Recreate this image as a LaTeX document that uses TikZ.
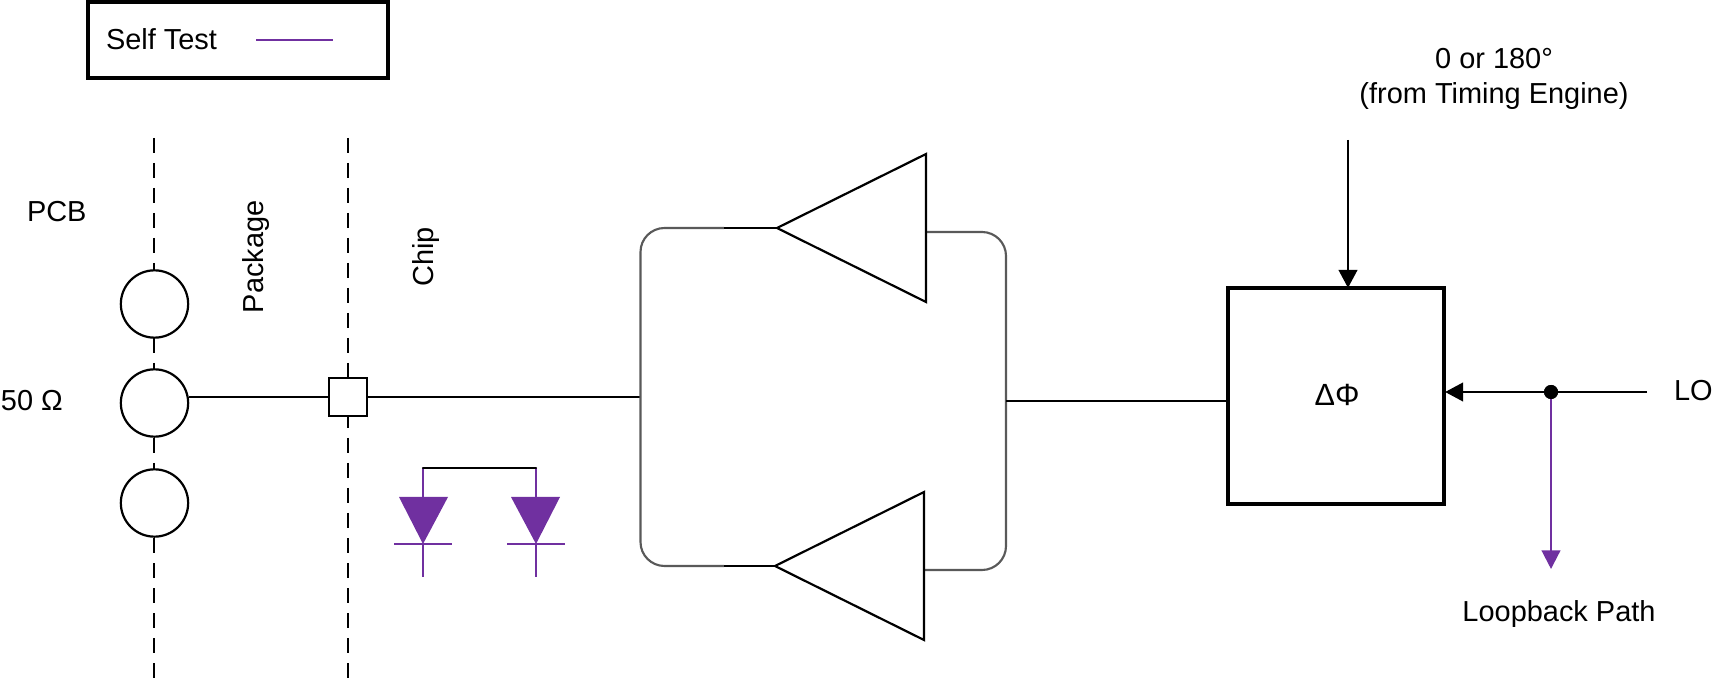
\documentclass[tikz,border=0pt]{standalone}
\usepackage{fontspec}
\setmainfont{Liberation Sans}
\usetikzlibrary{arrows.meta}
\definecolor{stpurple}{HTML}{7030A0}
\definecolor{wiregrey}{HTML}{595959}
\tikzset{
  wire/.style={black,line width=1.65pt},
  greywire/.style={wiregrey,line width=1.6pt,rounded corners=18pt},
  stwire/.style={stpurple,line width=1.65pt},
  border/.style={black,line width=1.65pt,dashed,dash pattern=on 11.25pt off 7.5pt},
  heavybox/.style={draw=black,fill=white,line width=3.2pt,rectangle,inner sep=0pt},
  pad/.style={draw=black,fill=white,line width=1.65pt,circle,minimum size=50.5pt,inner sep=0pt},
  bond/.style={draw=black,fill=white,line width=1.65pt,rectangle,minimum size=28.5pt,inner sep=0pt},
  amp/.style={draw=black,fill=white,line width=1.65pt,line join=miter},
  diode/.style={fill=stpurple,draw=none},
  label/.style={font=\fontsize{21.7pt}{26pt}\selectfont,inner sep=0pt,outer sep=0pt,text=black},
  blackarrow/.style={wire,-{Triangle[length=13.5pt,width=14pt]}},
  purplearrow/.style={stwire,-{Triangle[length=14pt,width=14pt]}},
  dotnode/.style={circle,fill=black,minimum size=10.5pt,inner sep=0pt}
}
\begin{document}
\begin{tikzpicture}[x=0.75pt,y=-0.75pt]
\useasboundingbox (0,0) rectangle (1713,680);
% free ends and junctions
\coordinate (pcbtop) at (154,138);
\coordinate (pcbbot) at (154,678);
\coordinate (pkgtop) at (348,138);
\coordinate (pkgbot) at (348,678);
\coordinate (apexU) at (777,228);
\coordinate (topU) at (926,154);
\coordinate (botU) at (926,302);
\coordinate (apexL) at (775,566);
\coordinate (topL) at (924,492);
\coordinate (botL) at (924,640);
\coordinate (stubU) at (724,228);
\coordinate (stubL) at (724,566);
\coordinate (splitL) at (640.5,397);
\coordinate (combR) at (1006,401);
\coordinate (outU) at (926,232);
\coordinate (outL) at (924,570);
\coordinate (timing) at (1348,140);
\coordinate (loend) at (1647,392);
\coordinate (looptip) at (1551,569);
\coordinate (dL) at (423,468);
\coordinate (dR) at (536,468);
\coordinate (dLb) at (423,577);
\coordinate (dRb) at (536,577);
\coordinate (legA) at (256,40);
\coordinate (legB) at (333,40);

% dashed boundaries
\draw[border] (pcbtop) -- (pcbbot);
\draw[border] (pkgtop) -- (pkgbot);

% nodes
\node[pad] (p1) at (154.5,304) {};
\node[pad] (p2) at (154.5,403) {};
\node[pad] (p3) at (154.5,503) {};
\node[bond] (bp) at (348,397) {};
\node[heavybox,minimum width=162pt,minimum height=162pt] (ps) at (1336,396) {};
\node[heavybox,minimum width=225pt,minimum height=57pt] (leg) at (238,40) {};
\node[dotnode] (dot) at (1551,392) {};

% legend
\draw[stwire] (legA) -- (legB);

% main wires
\draw[wire] (p2.east |- bp.west) -- (bp.west);
\draw[wire] (bp.east) -- (splitL);
\draw[greywire] (stubU) -- (640.5,228) -- (640.5,566) -- (stubL);
\draw[greywire] (outU) -- (1006,232) -- (1006,570) -- (outL);
\draw[wire] (stubU) -- (apexU);
\draw[wire] (stubL) -- (apexL);
\draw[wire] (combR) -- (ps.west |- combR);

% amplifiers
\draw[amp] (apexU) -- (topU) -- (botU) -- cycle;
\draw[amp] (apexL) -- (topL) -- (botL) -- cycle;

% arrows
\draw[blackarrow,shorten >=-1.5pt] (timing) -- (timing |- ps.north);
\draw[blackarrow,shorten >=-0.75pt] (loend) -- (ps.east |- loend);
\draw[purplearrow] (dot.center) -- (looptip);
\node[dotnode] at (dot) {};

% diodes
\draw[stwire] (dL) -- (423,497);
\draw[stwire] (dR) -- (536,497);
\draw[wire,line cap=round] (dL) -- (dR);
\fill[diode] (399,497) -- (448,497) -- (423,544) -- cycle;
\fill[diode] (511,497) -- (560,497) -- (536,544) -- cycle;
\draw[stwire] (394,544) -- (452,544);
\draw[stwire] (507,544) -- (565,544);
\draw[stwire] (423,544) -- (dLb);
\draw[stwire] (536,544) -- (dRb);

% labels
\node[label,anchor=base west] (tself) at (106,50) {Self Test};
\node[label,anchor=base] (t0) at (1494,69) {0 or 180°};
\node[label,anchor=base] (tfrom) at (1494,104) {(from Timing Engine)};
\node[label,anchor=base west] (tpcb) at (27,222) {PCB};
\node[label,anchor=base,rotate=90] (tpkg) at (263,257) {Package};
\node[label,anchor=base,rotate=90] (tchip) at (433,257) {Chip};
\node[label,anchor=base west] (t50) at (1,411) {50 Ω};
\node[label,anchor=base,font=\fontsize{23pt}{26pt}\selectfont] (tphi) at (1337,405.5) {ΔΦ};
\node[label,anchor=base west] (tlo) at (1674,401) {LO};
\node[label,anchor=base] (tloop) at (1559,621) {Loopback Path};
\end{tikzpicture}
\end{document}
